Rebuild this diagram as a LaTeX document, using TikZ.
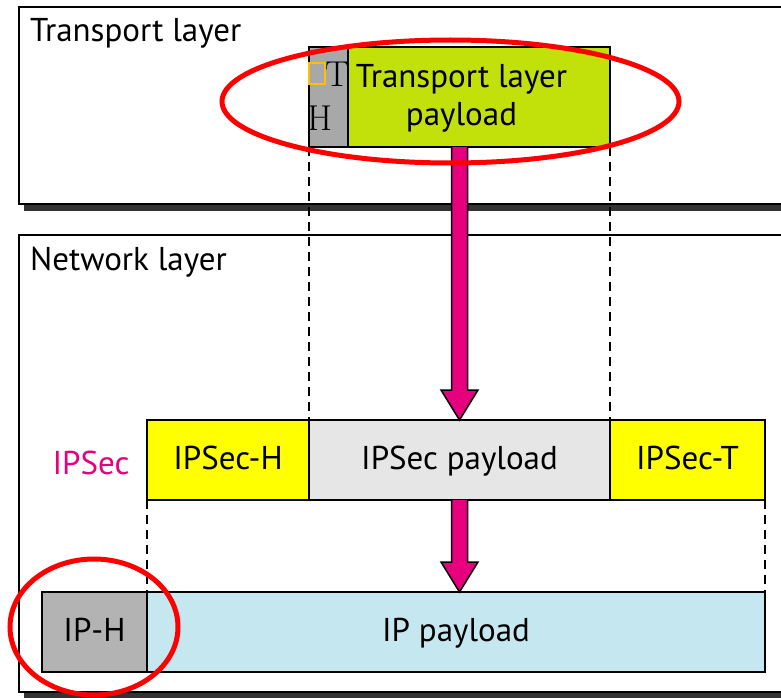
\documentclass[tikz,border=0pt]{standalone}
\usepackage{fontspec}
\newfontfamily\sansf{PT Sans}
\usetikzlibrary{calc}
\definecolor{magentaA}{HTML}{E6007E}
\definecolor{greenA}{HTML}{C2E10A}
\definecolor{yellowA}{HTML}{FFFF00}
\definecolor{grayTH}{HTML}{A8A8A8}
\definecolor{grayIP}{HTML}{B3B3B3}
\definecolor{grayPay}{HTML}{E6E6E6}
\definecolor{blueA}{HTML}{C5E8F0}
\definecolor{orangeA}{HTML}{FFC000}
\begin{document}
\begin{tikzpicture}[x=1pt,y=-1pt,
  lab/.style={font=\sansf\fontsize{33}{38}\selectfont, inner sep=0pt},
  cell/.style={draw=black, line width=1.5pt, inner sep=0pt, outer sep=0pt, anchor=north west,
    font=\sansf\fontsize{33}{38}\selectfont, align=center, text depth=4pt},
  layer/.style={draw=black, line width=2pt, fill=white, inner sep=0pt, outer sep=0pt, anchor=north west},
  shade/.style={fill=black!80},
  guide/.style={draw=black, line width=1.5pt, dash pattern=on 9pt off 6pt},
  ring/.style={draw=red, line width=5pt},
  bigarrow/.style={draw=black, line width=1.5pt, fill=magentaA, line join=miter}
]
\useasboundingbox (0,0) rectangle (781,698);
\clip (0,0) rectangle (781,698);
% layers
\fill[shade] (24,12) rectangle (830,211);
\node[layer, minimum width=800pt, minimum height=197pt] (tl) at (19,7) {};
\node[lab, anchor=base west] (tlt) at (30,42) {Transport layer};
\fill[shade] (24,240) rectangle (830,698);
\node[layer, minimum width=800pt, minimum height=457pt] (nl) at (19,235) {};
\node[lab, anchor=base west] (nlt) at (30,270) {Network layer};
% transport cells
\node[cell, fill=grayTH, minimum width=39pt, minimum height=100pt] (th) at (309,47) {};
\node[cell, fill=greenA, minimum width=262pt, minimum height=100pt] (pay) at (348,47) {};
\node[lab, align=center] (payt) at (461.5,98) {Transport layer\\payload};
\node[draw=orangeA, line width=2pt, minimum width=16pt, minimum height=21pt, inner sep=0pt, outer sep=0pt] (box) at (316.5,73.5) {};
\node[font=\fontsize{36}{40}\selectfont, inner sep=0pt, anchor=base] (tt) at (338,87) {T};
\node[font=\fontsize{36}{40}\selectfont, inner sep=0pt, anchor=base] (hh) at (320,131) {H};
% IPSec row
\node[cell, fill=yellowA, minimum width=162pt, minimum height=80pt] (sh) at (147,420) {IPSec-H};
\node[cell, fill=grayPay, minimum width=301pt, minimum height=80pt] (sp) at (309,420) {IPSec payload};
\node[cell, fill=yellowA, minimum width=155pt, minimum height=80pt] (st) at (610,420) {IPSec-T};
\node[lab, text=magentaA] (ipsec) at (91,463) {IPSec};
% IP row
\node[cell, fill=grayIP, minimum width=105pt, minimum height=80pt] (iph) at (42,592) {IP-H};
\node[cell, fill=blueA, minimum width=618pt, minimum height=80pt] (ipp) at (147,592) {IP payload};
% dashed guides
\draw[guide] (th.south west) -- (sh.north east);
\draw[guide] (pay.south east) -- (sp.north east);
\draw[guide] (sh.south west) -- (ipp.north west);
\draw[guide] (st.south east) -- (ipp.north east);
% arrows
\coordinate (a1t) at (sp.north |- pay.south);
\coordinate (a1b) at (sp.north);
\draw[bigarrow] ($(a1t)+(-8,0)$) -- ($(a1b)+(-8,-30)$) -- ($(a1b)+(-18.5,-30)$) -- (a1b)
  -- ($(a1b)+(18.5,-30)$) -- ($(a1b)+(8,-30)$) -- ($(a1t)+(8,0)$);
\coordinate (a2t) at (sp.south);
\coordinate (a2b) at (sp.south |- ipp.north);
\draw[bigarrow] ($(a2t)+(-8,0)$) -- ($(a2b)+(-8,-30)$) -- ($(a2b)+(-18.5,-30)$) -- (a2b)
  -- ($(a2b)+(18.5,-30)$) -- ($(a2b)+(8,-30)$) -- ($(a2t)+(8,0)$);
% red rings
\draw[ring] (450.5,101.5) ellipse [x radius=228.5, y radius=61.5];
\draw[ring] (94,627) ellipse [x radius=84, y radius=68];
\end{tikzpicture}
\end{document}
